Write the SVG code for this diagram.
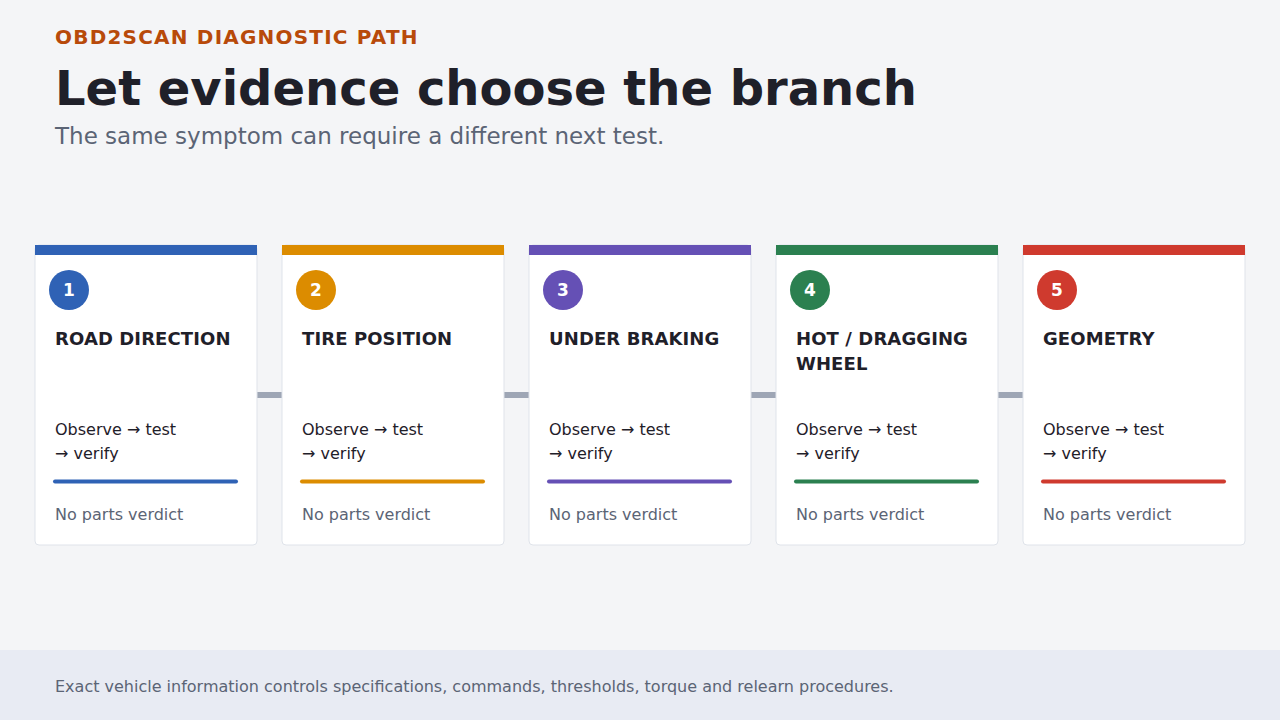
<svg xmlns="http://www.w3.org/2000/svg" width="1280" height="720" viewBox="0 0 1280 720">
<style>
text{font-family:"DejaVu Sans","Noto Sans",sans-serif}
.eyebrow{font-size:20px;font-weight:bold;fill:#b84a0a;letter-spacing:1.2px}
.h1{font-size:48px;font-weight:bold;fill:#1f2029}
.sub{font-size:23px;fill:#5b6475}
.card{fill:#ffffff;stroke:#dfe3ea;stroke-width:1}
.num{font-size:17px;font-weight:bold;fill:#ffffff;text-anchor:middle}
.title{font-size:18px;font-weight:bold;fill:#1f2029;letter-spacing:0.1px}
.body{font-size:16px;fill:#1f2029}
.muted{font-size:16px;fill:#5b6475}
.conn{fill:#9ea6b5}
.foot{font-size:16px;fill:#5b6475}
</style>
<rect width="1280" height="720" fill="#f4f5f7"/>
<text class="eyebrow" x="55" y="44">OBD2SCAN DIAGNOSTIC PATH</text>
<text class="h1" x="55" y="105">Let evidence choose the branch</text>
<text class="sub" x="55" y="144">The same symptom can require a different next test.</text>
<g id="connectors">
<rect class="conn" x="257" y="392" width="25" height="6"/>
<rect class="conn" x="504" y="392" width="25" height="6"/>
<rect class="conn" x="751" y="392" width="25" height="6"/>
<rect class="conn" x="998" y="392" width="25" height="6"/>
</g>
<g id="node1">
<rect class="card" x="35" y="245" width="222" height="300" rx="4"/>
<rect x="35" y="245" width="222" height="10" fill="#2f62b5"/>
<circle cx="69" cy="290" r="20" fill="#2f62b5"/>
<text class="num" x="69" y="296">1</text>
<text class="title" x="55" y="345">ROAD DIRECTION</text>
<text class="body" x="55" y="435">Observe → test</text>
<text class="body" x="55" y="459">→ verify</text>
<line x1="55" y1="481.5" x2="236" y2="481.5" stroke="#2f62b5" stroke-width="4" stroke-linecap="round"/>
<text class="muted" x="55" y="520">No parts verdict</text>
</g>
<g id="node2">
<rect class="card" x="282" y="245" width="222" height="300" rx="4"/>
<rect x="282" y="245" width="222" height="10" fill="#dc8c00"/>
<circle cx="316" cy="290" r="20" fill="#dc8c00"/>
<text class="num" x="316" y="296">2</text>
<text class="title" x="302" y="345">TIRE POSITION</text>
<text class="body" x="302" y="435">Observe → test</text>
<text class="body" x="302" y="459">→ verify</text>
<line x1="302" y1="481.5" x2="483" y2="481.5" stroke="#dc8c00" stroke-width="4" stroke-linecap="round"/>
<text class="muted" x="302" y="520">No parts verdict</text>
</g>
<g id="node3">
<rect class="card" x="529" y="245" width="222" height="300" rx="4"/>
<rect x="529" y="245" width="222" height="10" fill="#6550b5"/>
<circle cx="563" cy="290" r="20" fill="#6550b5"/>
<text class="num" x="563" y="296">3</text>
<text class="title" x="549" y="345">UNDER BRAKING</text>
<text class="body" x="549" y="435">Observe → test</text>
<text class="body" x="549" y="459">→ verify</text>
<line x1="549" y1="481.5" x2="730" y2="481.5" stroke="#6550b5" stroke-width="4" stroke-linecap="round"/>
<text class="muted" x="549" y="520">No parts verdict</text>
</g>
<g id="node4">
<rect class="card" x="776" y="245" width="222" height="300" rx="4"/>
<rect x="776" y="245" width="222" height="10" fill="#2b8050"/>
<circle cx="810" cy="290" r="20" fill="#2b8050"/>
<text class="num" x="810" y="296">4</text>
<text class="title" x="796" y="345">HOT / DRAGGING</text>
<text class="title" x="796" y="370">WHEEL</text>
<text class="body" x="796" y="435">Observe → test</text>
<text class="body" x="796" y="459">→ verify</text>
<line x1="796" y1="481.5" x2="977" y2="481.5" stroke="#2b8050" stroke-width="4" stroke-linecap="round"/>
<text class="muted" x="796" y="520">No parts verdict</text>
</g>
<g id="node5">
<rect class="card" x="1023" y="245" width="222" height="300" rx="4"/>
<rect x="1023" y="245" width="222" height="10" fill="#cf3a2e"/>
<circle cx="1057" cy="290" r="20" fill="#cf3a2e"/>
<text class="num" x="1057" y="296">5</text>
<text class="title" x="1043" y="345">GEOMETRY</text>
<text class="body" x="1043" y="435">Observe → test</text>
<text class="body" x="1043" y="459">→ verify</text>
<line x1="1043" y1="481.5" x2="1224" y2="481.5" stroke="#cf3a2e" stroke-width="4" stroke-linecap="round"/>
<text class="muted" x="1043" y="520">No parts verdict</text>
</g>
<rect x="0" y="650" width="1280" height="70" fill="#e8ebf3"/>
<text class="foot" x="55" y="692">Exact vehicle information controls specifications, commands, thresholds, torque and relearn procedures.</text>
</svg>
